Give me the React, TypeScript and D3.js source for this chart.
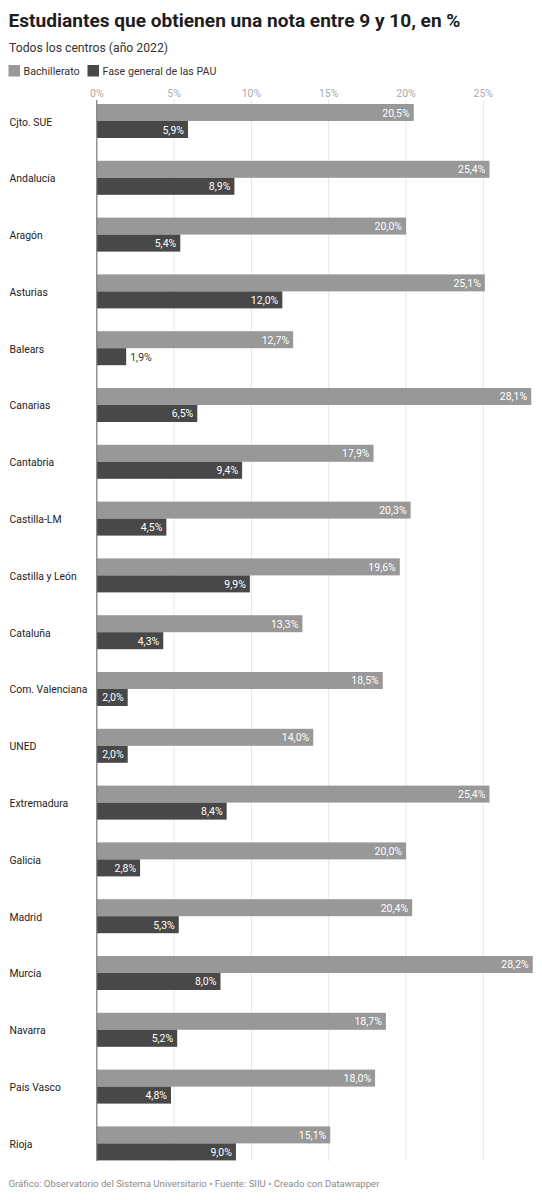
import React, { useEffect, useRef } from 'react';
import * as d3 from 'd3';

const categories = [
  'Cjto. SUE', 'Andalucía', 'Aragón', 'Asturias', 'Balears', 'Canarias', 'Cantabria',
  'Castilla-LM', 'Castilla y León', 'Cataluña', 'Com. Valenciana', 'UNED', 'Extremadura',
  'Galicia', 'Madrid', 'Murcia', 'Navarra', 'País Vasco', 'Rioja',
];
const bachillerato = [20.5, 25.4, 20.0, 25.1, 12.7, 28.1, 17.9, 20.3, 19.6, 13.3, 18.5, 14.0, 25.4, 20.0, 20.4, 28.2, 18.7, 18.0, 15.1];
const pau = [5.9, 8.9, 5.4, 12.0, 1.9, 6.5, 9.4, 4.5, 9.9, 4.3, 2.0, 2.0, 8.4, 2.8, 5.3, 8.0, 5.2, 4.8, 9.0];
const seriesNames = ['Bachillerato', 'Fase general de las PAU'];
const ticks = [0, 5, 10, 15, 20, 25];

const colors = ['#989898', '#484848'];
const W = 542;
const H = 1200;
const FONT = 'Roboto, "Noto Sans", sans-serif';

const fmt = (v: number) => v.toFixed(1).replace('.', ',') + '%';

const App = () => {
  const svgRef = useRef<SVGSVGElement>(null);

  useEffect(() => {
    if (!svgRef.current) return;
    const svg = d3.select(svgRef.current);
    svg.selectAll('*').remove();

    const x = d3.scaleLinear().domain([0, 25]).range([96.8, 483.3]);
    const y = d3.scaleBand<string>().domain(categories).range([104, 1160.4]).paddingInner(0.4014).paddingOuter(0);
    const barH = y.bandwidth() / 2;

    // header
    svg.append('text')
      .attr('x', 8.5).attr('y', 26.5)
      .style('font-family', FONT).style('font-size', '19.1px').style('font-weight', 'bold')
      .attr('fill', '#1d1d1d')
      .text('Estudiantes que obtienen una nota entre 9 y 10, en %');

    svg.append('text')
      .attr('x', 9).attr('y', 51.5)
      .style('font-family', FONT).style('font-size', '12.2px')
      .attr('fill', '#333')
      .text('Todos los centros (año 2022)');

    // legend
    const legendX = [8.5, 87.5];
    seriesNames.forEach((name, i) => {
      svg.append('rect')
        .attr('x', legendX[i]).attr('y', 65)
        .attr('width', 11.5).attr('height', 11.5)
        .attr('fill', colors[i]);
      svg.append('text')
        .attr('x', legendX[i] + 15).attr('y', 74.5)
        .style('font-family', FONT).style('font-size', '10.7px')
        .attr('fill', '#333')
        .text(name);
    });

    // grid
    const grid = svg.append('g');
    grid.selectAll('line')
      .data(ticks.slice(1))
      .enter().append('line')
      .attr('x1', d => x(d)).attr('x2', d => x(d))
      .attr('y1', 100).attr('y2', 1161)
      .attr('stroke', '#e6e6e6').attr('stroke-width', 1);

    grid.selectAll('text')
      .data(ticks)
      .enter().append('text')
      .attr('x', d => x(d)).attr('y', 97)
      .attr('text-anchor', 'middle')
      .style('font-family', FONT).style('font-size', '10.5px')
      .attr('fill', '#aaa')
      .text(d => d + '%');

    // rows
    const rows = svg.append('g').selectAll('g')
      .data(categories)
      .enter().append('g')
      .attr('transform', d => `translate(0,${y(d)})`);

    rows.append('text')
      .attr('x', 9.5).attr('y', barH + 4.5)
      .style('font-family', FONT).style('font-size', '10.4px')
      .attr('fill', '#222')
      .text(d => d);

    [bachillerato, pau].forEach((vals, s) => {
      rows.append('rect')
        .attr('x', x(0))
        .attr('y', s * barH)
        .attr('width', (_, i) => x(vals[i]) - x(0))
        .attr('height', barH)
        .attr('fill', colors[s]);

      rows.append('text')
        .attr('x', (_, i) => {
          const w = x(vals[i]) - x(0);
          return w < 30 ? x(vals[i]) + 4 : x(vals[i]) - 4;
        })
        .attr('y', s * barH + barH / 2 + 4)
        .attr('text-anchor', (_, i) => (x(vals[i]) - x(0) < 30 ? 'start' : 'end'))
        .style('font-family', FONT).style('font-size', '10.5px')
        .attr('fill', (_, i) => (x(vals[i]) - x(0) < 30 ? '#333' : '#fff'))
        .text((_, i) => fmt(vals[i]));
    });

    // baseline
    svg.append('line')
      .attr('x1', x(0)).attr('x2', x(0))
      .attr('y1', 100).attr('y2', 1161)
      .attr('stroke', '#777').attr('stroke-width', 1.2);

    // footer
    svg.append('text')
      .attr('x', 8.5).attr('y', 1187)
      .style('font-family', FONT).style('font-size', '9.6px')
      .attr('fill', '#8a8a8a')
      .text('Gráfico: Observatorio del Sistema Universitario • Fuente: SIIU • Creado con Datawrapper');
  }, []);

  return (
    <div style={{ position: 'absolute', left: 0, top: 0, width: W, height: H, background: '#fff' }}>
      <svg ref={svgRef} width={W} height={H}></svg>
    </div>
  );
};

export default App;
